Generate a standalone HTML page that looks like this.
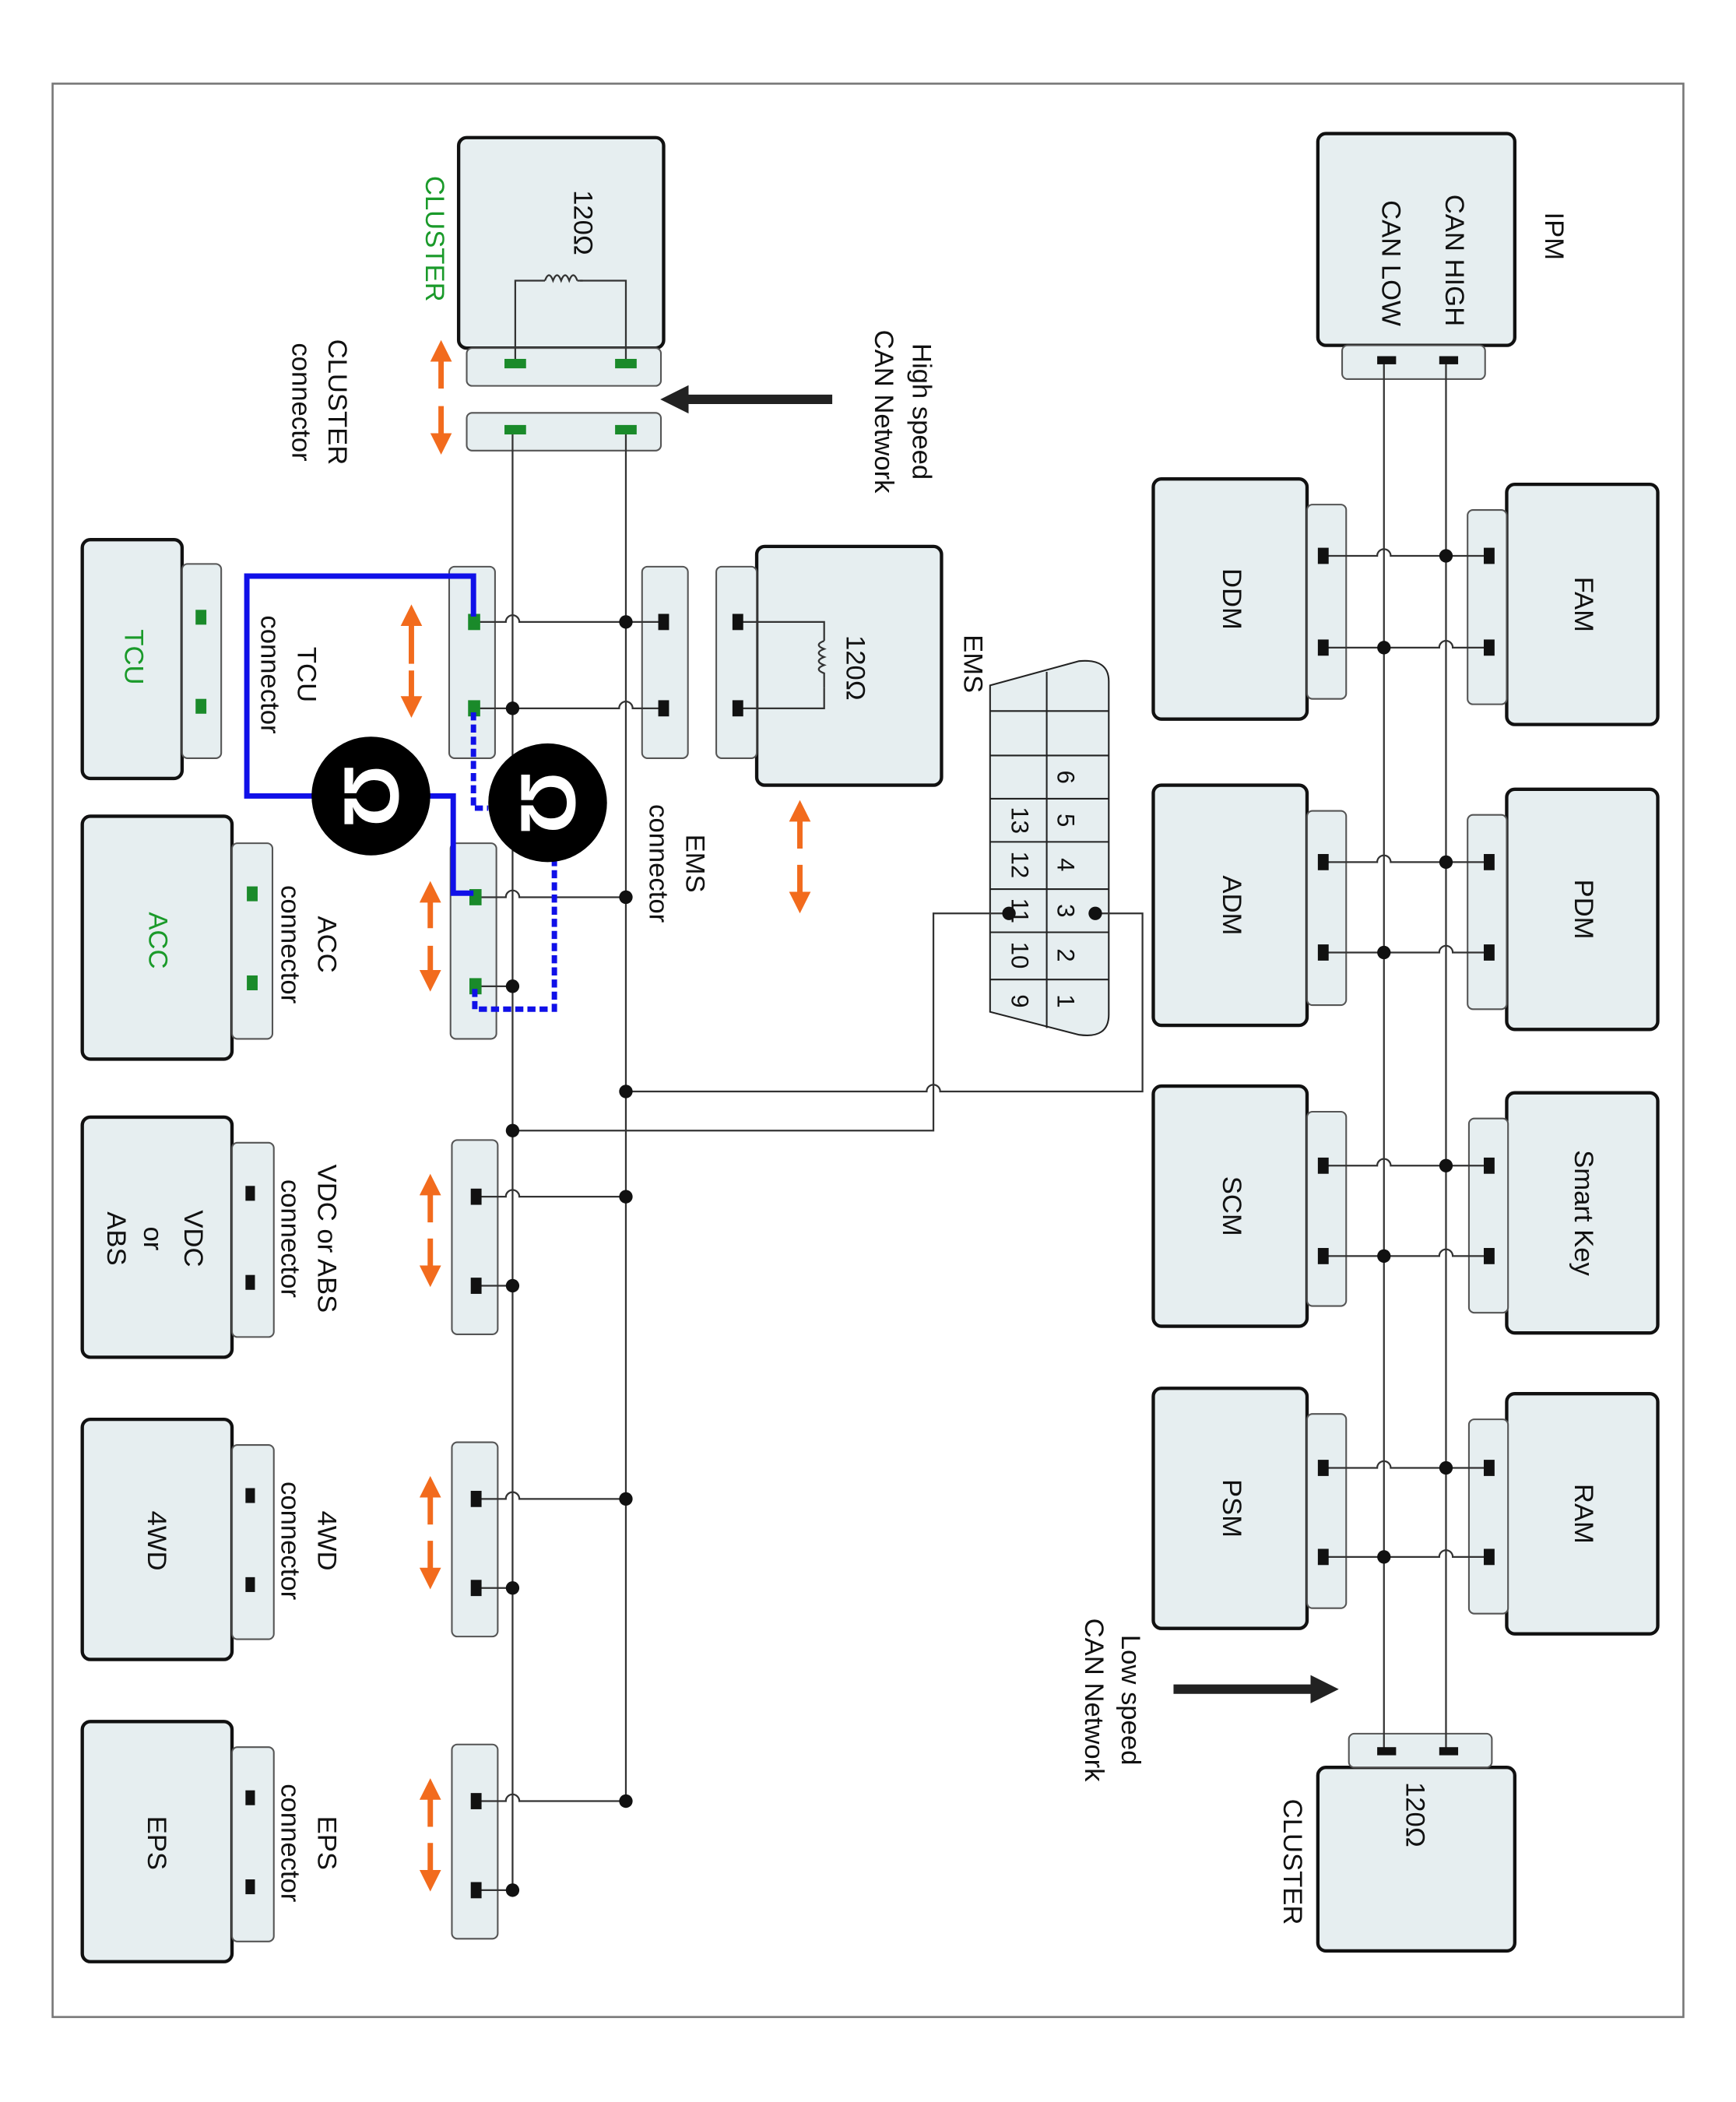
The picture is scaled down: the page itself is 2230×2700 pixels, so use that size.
<!DOCTYPE html>
<html><head><meta charset="utf-8"><style>
html,body{margin:0;padding:0;background:#fff;}
svg{display:block;}
text{font-family:"Liberation Sans",sans-serif;}
</style></head><body>
<svg width="2230" height="2700" viewBox="0 0 1287 1558" preserveAspectRatio="none" xmlns="http://www.w3.org/2000/svg">
<defs>
<marker id="ah" markerWidth="4" markerHeight="4" refX="2" refY="2" orient="auto" markerUnits="strokeWidth"><path d="M0,0 L4,2 L0,4 z" fill="#f26b1d"/></marker>
<marker id="bh" markerWidth="3" markerHeight="3" refX="1.5" refY="1.5" orient="auto" markerUnits="strokeWidth"><path d="M0,0 L3,1.5 L0,3 z" fill="#222"/></marker>
</defs>
<rect x="0" y="0" width="1287" height="1558" fill="#fff"/>
<rect x="39" y="62" width="1209" height="1433" fill="none" stroke="#777" stroke-width="1.5"/>

<g fill="#e6eef0" stroke="#111" stroke-width="2.5">
<!-- main boxes -->
<rect x="340" y="102" width="152" height="156" rx="6"/>
<rect x="61" y="400" width="74" height="177" rx="6"/>
<rect x="561" y="405" width="137" height="177" rx="6"/>
<rect x="61" y="605" width="111" height="180" rx="6"/>
<rect x="61" y="828" width="111" height="178" rx="6"/>
<rect x="61" y="1052" width="111" height="178" rx="6"/>
<rect x="61" y="1276" width="111" height="178" rx="6"/>
<rect x="977" y="99" width="146" height="157" rx="6"/>
<rect x="855" y="355" width="114" height="178" rx="6"/>
<rect x="855" y="582" width="114" height="178" rx="6"/>
<rect x="855" y="805" width="114" height="178" rx="6"/>
<rect x="855" y="1029" width="114" height="178" rx="6"/>
<rect x="1117" y="359" width="112" height="178" rx="6"/>
<rect x="1117" y="585" width="112" height="178" rx="6"/>
<rect x="1117" y="810" width="112" height="178" rx="6"/>
<rect x="1117" y="1033" width="112" height="178" rx="6"/>
<rect x="977" y="1310" width="146" height="136" rx="6"/>
</g>
<g fill="#e6eef0" stroke="#555" stroke-width="1.2">
<rect x="346" y="258" width="144" height="28" rx="4"/>
<rect x="346" y="306" width="144" height="28" rx="4"/>
<rect x="135" y="418" width="29" height="144" rx="4"/>
<rect x="333" y="420" width="34" height="142" rx="4"/>
<rect x="476" y="420" width="34" height="142" rx="4"/>
<rect x="531" y="420" width="30" height="142" rx="4"/>
<rect x="172" y="625" width="30" height="145" rx="4"/>
<rect x="334" y="625" width="34" height="145" rx="4"/>
<rect x="172" y="847" width="31" height="144" rx="4"/>
<rect x="335" y="845" width="34" height="144" rx="4"/>
<rect x="172" y="1071" width="31" height="144" rx="4"/>
<rect x="335" y="1069" width="34" height="144" rx="4"/>
<rect x="172" y="1295" width="31" height="144" rx="4"/>
<rect x="335" y="1293" width="34" height="144" rx="4"/>
<rect x="995" y="256" width="106" height="25" rx="4"/>
<rect x="969" y="374" width="29" height="144" rx="4"/>
<rect x="969" y="601" width="29" height="144" rx="4"/>
<rect x="969" y="824" width="29" height="144" rx="4"/>
<rect x="969" y="1048" width="29" height="144" rx="4"/>
<rect x="1088" y="378" width="29" height="144" rx="4"/>
<rect x="1088" y="604" width="29" height="144" rx="4"/>
<rect x="1089" y="829" width="29" height="144" rx="4"/>
<rect x="1089" y="1052" width="29" height="144" rx="4"/>
<rect x="1000" y="1285" width="106" height="25" rx="4"/>
</g>

<!-- OBD connector -->
<g stroke="#222" stroke-width="1.2" fill="#e6eef0">
<path d="M734,508 L800,490 Q822,488 822,505 L822,752 Q822,770 800,767 L734,750 Z"/>
<g fill="none">
<line x1="776" y1="498" x2="776" y2="762"/>
<line x1="734" y1="527" x2="822" y2="527"/>
<line x1="734" y1="560" x2="822" y2="560"/>
<line x1="734" y1="592" x2="822" y2="592"/>
<line x1="734" y1="624" x2="822" y2="624"/>
<line x1="734" y1="659" x2="822" y2="659"/>
<line x1="734" y1="691" x2="822" y2="691"/>
<line x1="734" y1="726" x2="822" y2="726"/>
</g></g>
<g font-size="18" fill="#111" text-anchor="middle" dominant-baseline="central">
<text transform="translate(790,576) rotate(90)">6</text>
<text transform="translate(790,608) rotate(90)">5</text>
<text transform="translate(790,641) rotate(90)">4</text>
<text transform="translate(790,675) rotate(90)">3</text>
<text transform="translate(790,708) rotate(90)">2</text>
<text transform="translate(790,742) rotate(90)">1</text>
<text transform="translate(756,608) rotate(90)">13</text>
<text transform="translate(756,641) rotate(90)">12</text>
<text transform="translate(756,675) rotate(90)">11</text>
<text transform="translate(756,708) rotate(90)">10</text>
<text transform="translate(756,742) rotate(90)">9</text>
</g>

<!-- bus wires -->
<g stroke="#333" stroke-width="1.3" fill="none">
<line x1="380" y1="318" x2="380" y2="1398"/>
<line x1="464" y1="318" x2="464" y2="1332"/>
<!-- cluster resistor -->
<path d="M382,269 V208 H404 M430,208 H464 V269"/>
<path d="M404,208 q3,-8 6,0 q3,-8 6,0 q3,-8 6,0 q3,-8 6,0 M428,208 H432"/>
<!-- EMS resistor -->
<path d="M549,461 H611 V475 M611,510 V525 H549"/>
<path d="M611,475 q-8,3 0,6 q-8,3 0,6 q-8,3 0,6 q-8,3 0,6 V510"/>
<!-- TCU lines -->
<path d="M355,461 H375 a5,5 0 0 1 10,0 H492"/>
<path d="M355,525 H459 a5,5 0 0 1 10,0 H492"/>
<!-- ACC -->
<path d="M355,665 H375 a5,5 0 0 1 10,0 H464"/>
<path d="M355,731 H380"/>
<!-- VDC 4WD EPS -->
<path d="M355,887 H375 a5,5 0 0 1 10,0 H464"/><path d="M355,953 H380"/>
<path d="M355,1111 H375 a5,5 0 0 1 10,0 H464"/><path d="M355,1177 H380"/>
<path d="M355,1335 H375 a5,5 0 0 1 10,0 H464"/><path d="M355,1401 H380"/>
<!-- OBD link -->
<path d="M464,809 H687 a5,5 0 0 1 10,0 H847 V677 H812"/>
<path d="M380,838 H692 V677 H748"/>
<!-- low speed bus -->
<line x1="1026" y1="267" x2="1026" y2="1298"/>
<line x1="1072" y1="267" x2="1072" y2="1298"/>
<path d="M983,412 H1021 a5,5 0 0 1 10,0 H1104"/>
<path d="M983,480 H1067 a5,5 0 0 1 10,0 H1104"/>
<path d="M983,639 H1021 a5,5 0 0 1 10,0 H1104"/>
<path d="M983,706 H1067 a5,5 0 0 1 10,0 H1104"/>
<path d="M983,864 H1021 a5,5 0 0 1 10,0 H1104"/>
<path d="M983,931 H1067 a5,5 0 0 1 10,0 H1104"/>
<path d="M983,1088 H1021 a5,5 0 0 1 10,0 H1104"/>
<path d="M983,1154 H1067 a5,5 0 0 1 10,0 H1104"/>
</g>

<!-- dots -->
<g fill="#111">
<circle cx="464" cy="461" r="5"/><circle cx="380" cy="525" r="5"/>
<circle cx="464" cy="665" r="5"/><circle cx="380" cy="731" r="5"/>
<circle cx="464" cy="887" r="5"/><circle cx="380" cy="953" r="5"/>
<circle cx="464" cy="1111" r="5"/><circle cx="380" cy="1177" r="5"/>
<circle cx="464" cy="1335" r="5"/><circle cx="380" cy="1401" r="5"/>
<circle cx="464" cy="809" r="5"/><circle cx="380" cy="838" r="5"/>
<circle cx="812" cy="677" r="5"/><circle cx="748" cy="677" r="5"/>
<circle cx="1072" cy="412" r="5"/><circle cx="1026" cy="480" r="5"/>
<circle cx="1072" cy="639" r="5"/><circle cx="1026" cy="706" r="5"/>
<circle cx="1072" cy="864" r="5"/><circle cx="1026" cy="931" r="5"/>
<circle cx="1072" cy="1088" r="5"/><circle cx="1026" cy="1154" r="5"/>
<!-- black pins -->
<rect x="488" y="455" width="8" height="12"/><rect x="488" y="519" width="8" height="12"/>
<rect x="543" y="455" width="8" height="12"/><rect x="543" y="519" width="8" height="12"/>
<rect x="182" y="879" width="7" height="11"/><rect x="182" y="945" width="7" height="11"/>
<rect x="182" y="1103" width="7" height="11"/><rect x="182" y="1169" width="7" height="11"/>
<rect x="182" y="1327" width="7" height="11"/><rect x="182" y="1393" width="7" height="11"/>
<rect x="349" y="881" width="8" height="12"/><rect x="349" y="947" width="8" height="12"/>
<rect x="349" y="1105" width="8" height="12"/><rect x="349" y="1171" width="8" height="12"/>
<rect x="349" y="1329" width="8" height="12"/><rect x="349" y="1395" width="8" height="12"/>
<rect x="1021" y="264" width="14" height="6"/><rect x="1067" y="264" width="14" height="6"/>
<rect x="1021" y="1295" width="14" height="6"/><rect x="1067" y="1295" width="14" height="6"/>
<rect x="977" y="406" width="8" height="12"/><rect x="977" y="474" width="8" height="12"/>
<rect x="977" y="633" width="8" height="12"/><rect x="977" y="700" width="8" height="12"/>
<rect x="977" y="858" width="8" height="12"/><rect x="977" y="925" width="8" height="12"/>
<rect x="977" y="1082" width="8" height="12"/><rect x="977" y="1148" width="8" height="12"/>
<rect x="1100" y="406" width="8" height="12"/><rect x="1100" y="474" width="8" height="12"/>
<rect x="1100" y="633" width="8" height="12"/><rect x="1100" y="700" width="8" height="12"/>
<rect x="1100" y="858" width="8" height="12"/><rect x="1100" y="925" width="8" height="12"/>
<rect x="1100" y="1082" width="8" height="12"/><rect x="1100" y="1148" width="8" height="12"/>
</g>
<g fill="#1a8a2a">
<rect x="374" y="266" width="16" height="7"/><rect x="456" y="266" width="16" height="7"/>
<rect x="374" y="315" width="16" height="7"/><rect x="456" y="315" width="16" height="7"/>
<rect x="145" y="452" width="8" height="11"/><rect x="145" y="518" width="8" height="11"/>
<rect x="347" y="455" width="9" height="12"/><rect x="347" y="519" width="9" height="12"/>
<rect x="183" y="657" width="8" height="11"/><rect x="183" y="723" width="8" height="11"/>
<rect x="348" y="659" width="9" height="12"/><rect x="348" y="725" width="9" height="12"/>
</g>

<!-- blue lines -->
<path d="M351,457 V427 H183 V590 H236" stroke="#1010e8" stroke-width="4" fill="none"/>
<path d="M312,590 H336 V662 H351" stroke="#1010e8" stroke-width="4" fill="none"/>
<path d="M351,528 V599 H362" stroke="#1010e8" stroke-width="4" stroke-dasharray="6,3" fill="none"/>
<path d="M411,636 V748 H352 V733" stroke="#1010e8" stroke-width="4" stroke-dasharray="6,3" fill="none"/>
<!-- omega circles -->
<circle cx="275" cy="590" r="44" fill="#000"/>
<circle cx="406" cy="595" r="44" fill="#000"/>
<g fill="#fff" font-size="58" font-weight="bold" text-anchor="middle" dominant-baseline="central">
<text transform="translate(275,590) rotate(90)">Ω</text>
<text transform="translate(406,595) rotate(90)">Ω</text>
</g>

<!-- orange arrows -->
<g stroke="#f26b1d" stroke-width="4" fill="none" marker-end="url(#ah)">
<line x1="327" y1="288" x2="327" y2="260"/><line x1="327" y1="301" x2="327" y2="329"/>
<line x1="305" y1="492" x2="305" y2="456"/><line x1="305" y1="497" x2="305" y2="524"/>
<line x1="319" y1="688" x2="319" y2="661"/><line x1="319" y1="701" x2="319" y2="727"/>
<line x1="319" y1="906" x2="319" y2="878"/><line x1="319" y1="918" x2="319" y2="946"/>
<line x1="319" y1="1130" x2="319" y2="1102"/><line x1="319" y1="1142" x2="319" y2="1170"/>
<line x1="319" y1="1354" x2="319" y2="1326"/><line x1="319" y1="1366" x2="319" y2="1394"/>
<line x1="593" y1="629" x2="593" y2="601"/><line x1="593" y1="641" x2="593" y2="669"/>
</g>
<!-- black arrows -->
<line x1="617" y1="296" x2="500" y2="296" stroke="#222" stroke-width="7" marker-end="url(#bh)"/>
<line x1="870" y1="1252" x2="982" y2="1252" stroke="#222" stroke-width="7" marker-end="url(#bh)"/>

<!-- labels -->
<g font-size="20" fill="#111" text-anchor="middle" dominant-baseline="central">
<text transform="translate(432,165) rotate(90)">120Ω</text>
<text transform="translate(634,495) rotate(90)">120Ω</text>
<text transform="translate(1049,1345) rotate(90)">120Ω</text>
<text transform="translate(250,298) rotate(90)">CLUSTER</text>
<text transform="translate(223,298) rotate(90)">connector</text>
<text transform="translate(683,305) rotate(90)">High speed</text>
<text transform="translate(655,305) rotate(90)">CAN Network</text>
<text transform="translate(227,500) rotate(90)">TCU</text>
<text transform="translate(200,500) rotate(90)">connector</text>
<text transform="translate(515,640) rotate(90)">EMS</text>
<text transform="translate(488,640) rotate(90)">connector</text>
<text transform="translate(721,492) rotate(90)">EMS</text>
<text transform="translate(242,700) rotate(90)">ACC</text>
<text transform="translate(215,700) rotate(90)">connector</text>
<text transform="translate(242,918) rotate(90)">VDC or ABS</text>
<text transform="translate(215,918) rotate(90)">connector</text>
<text transform="translate(242,1142) rotate(90)">4WD</text>
<text transform="translate(215,1142) rotate(90)">connector</text>
<text transform="translate(242,1366) rotate(90)">EPS</text>
<text transform="translate(215,1366) rotate(90)">connector</text>
<text transform="translate(143,918) rotate(90)">VDC</text>
<text transform="translate(113,918) rotate(90)">or</text>
<text transform="translate(86,918) rotate(90)">ABS</text>
<text transform="translate(116,1142) rotate(90)">4WD</text>
<text transform="translate(116,1366) rotate(90)">EPS</text>
<text transform="translate(1152,175) rotate(90)">IPM</text>
<text transform="translate(1078,193) rotate(90)">CAN HIGH</text>
<text transform="translate(1031,195) rotate(90)">CAN LOW</text>
<text transform="translate(913,444) rotate(90)">DDM</text>
<text transform="translate(913,671) rotate(90)">ADM</text>
<text transform="translate(913,894) rotate(90)">SCM</text>
<text transform="translate(913,1118) rotate(90)">PSM</text>
<text transform="translate(1174,448) rotate(90)">FAM</text>
<text transform="translate(1174,674) rotate(90)">PDM</text>
<text transform="translate(1174,899) rotate(90)">Smart Key</text>
<text transform="translate(1174,1122) rotate(90)">RAM</text>
<text transform="translate(838,1260) rotate(90)">Low speed</text>
<text transform="translate(811,1260) rotate(90)">CAN Network</text>
<text transform="translate(958,1380) rotate(90)">CLUSTER</text>
</g>
<g font-size="20" fill="#1a9a2a" text-anchor="middle" dominant-baseline="central">
<text transform="translate(322,177) rotate(90)">CLUSTER</text>
<text transform="translate(99,487) rotate(90)">TCU</text>
<text transform="translate(117,697) rotate(90)">ACC</text>
</g>
</svg>
</body></html>
